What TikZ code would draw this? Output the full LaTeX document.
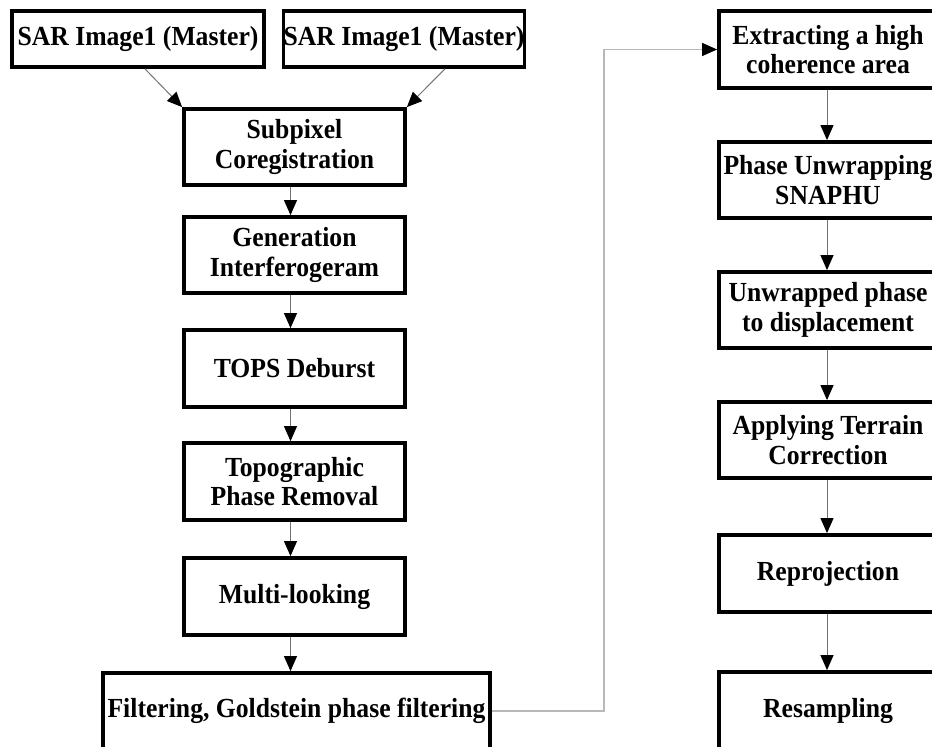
\documentclass[tikz,border=0pt]{standalone}
\usepackage{fontspec}
\setmainfont[FakeStretch=0.93]{Liberation Serif}
\usetikzlibrary{arrows.meta,positioning,calc}
\begin{document}
\begin{tikzpicture}[x=1pt,y=-1pt,
  box/.style={draw=black,line width=3.8pt,rectangle,inner sep=0pt,align=center,
    font=\fontsize{27.6}{29.5}\selectfont\bfseries},
  arr/.style={draw=black!55,line width=1pt,-{Triangle[width=13pt,length=15pt,black]}},
  link/.style={draw=black!28,line width=1.3pt,-{Triangle[width=13pt,length=15pt,black]}}]
\useasboundingbox (0,0) rectangle (932,747);
\clip (0,0) rectangle (932,747);
\fill[white] (0,0) rectangle (932,747);
% left column
\node[box,minimum width=252pt,minimum height=56pt] (A) at (138,39) {SAR Image1 (Master)};
\node[box,minimum width=226pt,minimum height=56pt] (B) at (404,39) {SAR Image1 (Master)};
\node[box,minimum width=221pt,minimum height=76pt] (C) at (294.5,147) {Subpixel\\Coregistration};
\node[box,minimum width=221pt,minimum height=76pt] (D) at (294.5,255) {Generation\\Interferogeram};
\node[box,minimum width=221pt,minimum height=77pt] (E) at (294.5,368.5) {TOPS Deburst};
\node[box,minimum width=221pt,minimum height=77pt] (F) at (294.5,481.5) {Topographic\\Phase Removal};
\node[box,minimum width=221pt,minimum height=77pt] (G) at (294.5,596.5) {Multi-looking};
\node[box,minimum width=387pt,minimum height=76pt] (H) at (296.5,711) {Filtering, Goldstein phase filtering};
% right column
\node[box,minimum width=218pt,minimum height=77pt] (I) at (828,49.5) {Extracting a high\\coherence area};
\node[box,minimum width=218pt,minimum height=76pt] (J) at (828,180) {Phase Unwrapping\\SNAPHU};
\node[box,minimum width=218pt,minimum height=76pt] (K) at (828,310) {Unwrapped phase\\to displacement};
\node[box,minimum width=218pt,minimum height=76pt] (L) at (828,440) {Applying Terrain\\Correction};
\node[box,minimum width=218pt,minimum height=77pt] (M) at (828,573.5) {Reprojection};
\node[box,minimum width=218pt,minimum height=77pt] (N) at (828,710.5) {Resampling};
% connectors
\draw[arr] ([xshift=7pt]A.south) -- (C.north west);
\draw[arr] ([xshift=41pt]B.south) -- (C.north east);
\draw[arr] ([xshift=-4pt]C.south) -- ([xshift=-4pt]D.north);
\draw[arr] ([xshift=-4pt]D.south) -- ([xshift=-4pt]E.north);
\draw[arr] ([xshift=-4pt]E.south) -- ([xshift=-4pt]F.north);
\draw[arr] ([xshift=-4pt]F.south) -- ([xshift=-4pt]G.north);
\draw[arr] ([xshift=-4pt]G.south) -- ([xshift=-6pt]H.north);
\draw[link] (H.east) -| ([xshift=-113pt]I.west) -- (I.west);
\draw[arr] ([xshift=-1pt]I.south) -- ([xshift=-1pt]J.north);
\draw[arr] ([xshift=-1pt]J.south) -- ([xshift=-1pt]K.north);
\draw[arr] ([xshift=-1pt]K.south) -- ([xshift=-1pt]L.north);
\draw[arr] ([xshift=-1pt]L.south) -- ([xshift=-1pt]M.north);
\draw[arr] ([xshift=-1pt]M.south) -- ([xshift=-1pt]N.north);
\end{tikzpicture}
\end{document}
